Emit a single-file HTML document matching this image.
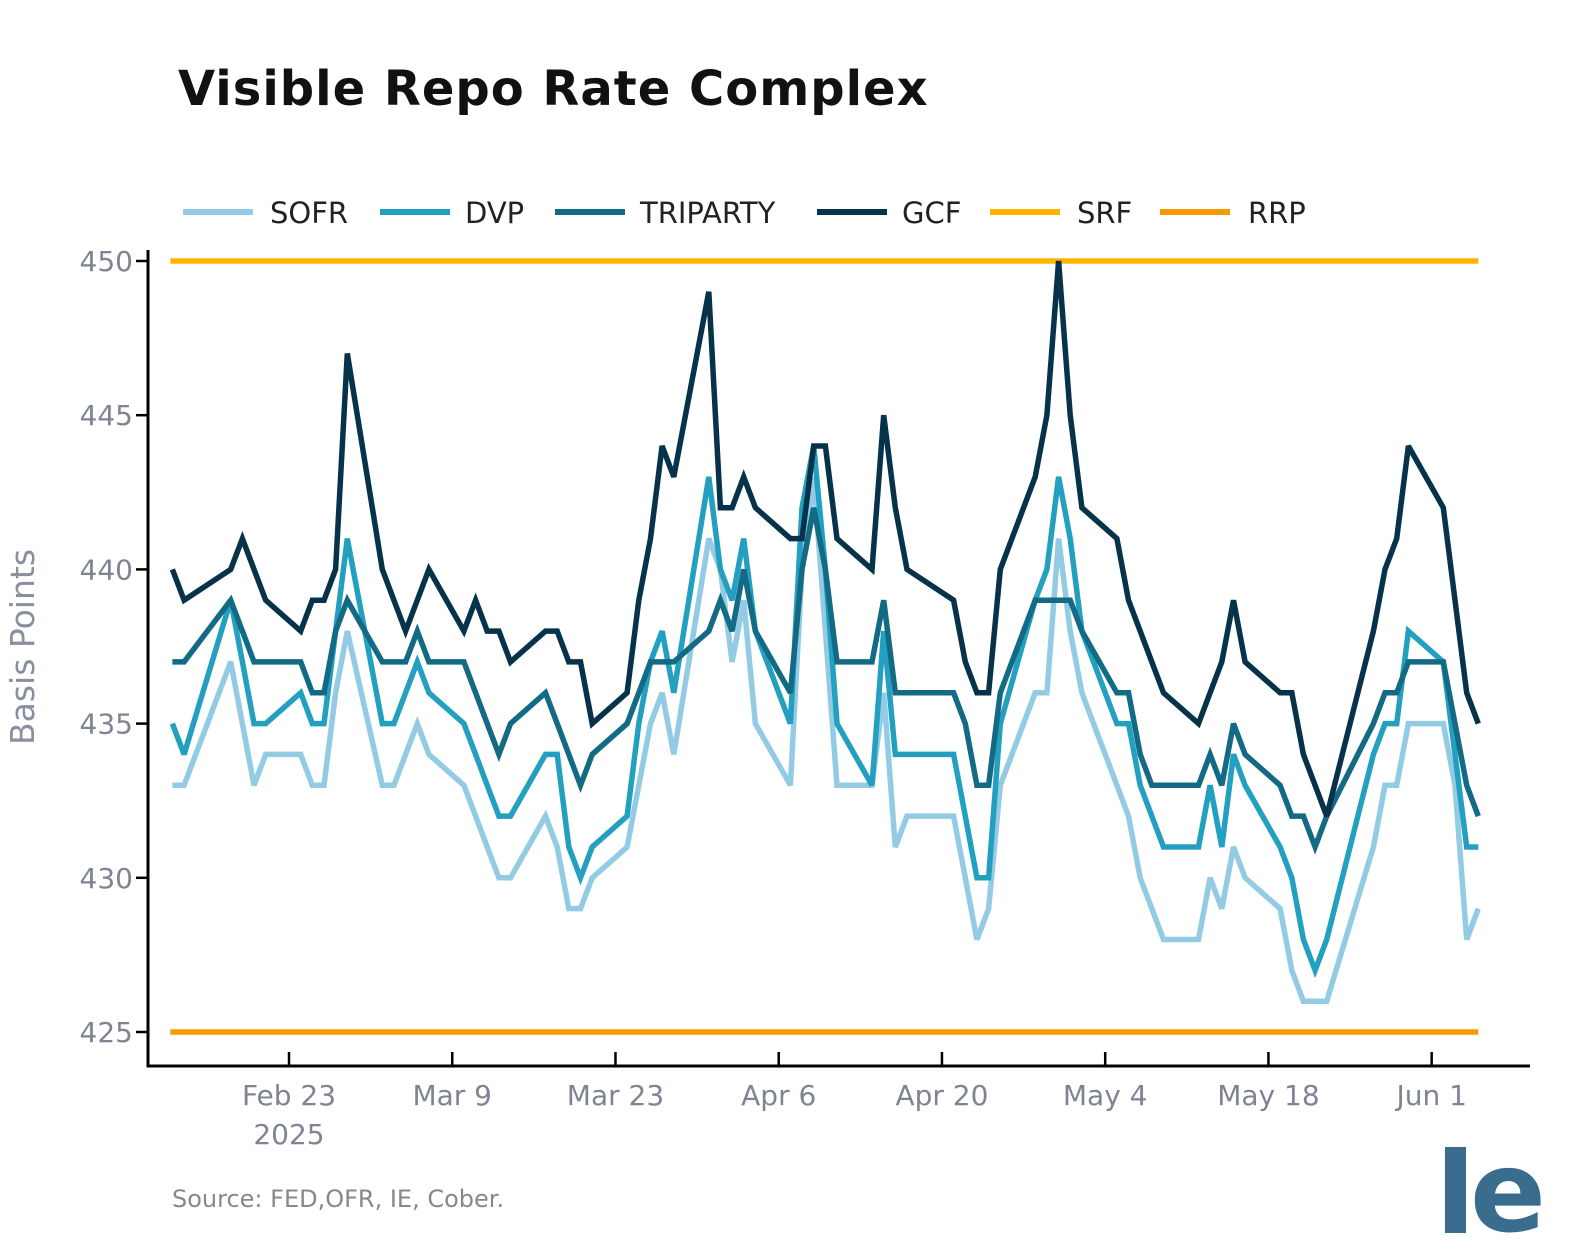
<!DOCTYPE html>
<html><head><meta charset="utf-8"><style>
html,body{margin:0;padding:0;background:#fff;}
svg{display:block;font-family:"DejaVu Sans","Liberation Sans",sans-serif;}
</style></head><body>
<svg id="chart" width="1574" height="1250" viewBox="0 0 1574 1250" xmlns="http://www.w3.org/2000/svg">
<text x="178" y="105" font-size="48" font-weight="bold" letter-spacing="1" fill="#111">Visible Repo Rate Complex</text>
<g id="legend"></g>
<g id="grid"></g>
<g id="series"></g>
<text transform="translate(34,647) rotate(-90)" text-anchor="middle" font-size="33" fill="#8a8fa0">Basis Points</text>
<text x="172" y="1207" font-size="24" fill="#888">Source: FED,OFR, IE, Cober.</text>
<g>
<rect x="1445" y="1147" width="21" height="86" fill="#3a6d8d"/>
<text x="1470" y="1231" font-size="112" font-weight="bold" fill="#3a6d8d">e</text>
</g>
</svg>
<script>
const days = [0,1,5,6,7,8,11,12,13,14,15,18,19,20,21,22,25,26,27,28,29,32,33,34,35,36,39,40,41,42,43,46,47,48,49,50,53,54,55,56,57,60,61,62,63,67,68,69,70,71,74,75,76,77,78,81,82,83,84,85,88,89,90,91,92,95,96,97,98,99,103,104,105,106,109,110,111,112];
const gcf = [440,439,440,441,440,439,438,439,439,440,447,440,439,438,439,440,438,439,438,438,437,438,438,437,437,435,436,439,441,444,443,449,442,442,443,442,441,441,444,444,441,440,445,442,440,439,437,436,436,440,443,445,450,445,442,441,439,438,437,436,435,436,437,439,437,436,436,434,433,432,438,440,441,444,442,439,436,435];
const triparty = [437,437,439,438,437,437,437,436,436,438,439,437,437,437,438,437,437,436,435,434,435,436,435,434,433,434,435,436,437,437,437,438,439,438,440,438,436,440,442,440,437,437,439,436,436,436,435,433,433,436,439,439,439,439,438,436,436,434,433,433,433,434,433,435,434,433,432,432,431,432,435,436,436,437,437,435,433,432];
const dvp = [435,434,439,437,435,435,436,435,435,438,441,435,435,436,437,436,435,434,433,432,432,434,434,431,430,431,432,435,437,438,436,443,440,439,441,438,435,442,444,440,435,433,438,434,434,434,432,430,430,435,439,440,443,441,438,435,435,433,432,431,431,433,431,434,433,431,430,428,427,428,434,435,435,438,437,434,431,431];
const sofr = [433,433,437,435,433,434,434,433,433,436,438,433,433,434,435,434,433,432,431,430,430,432,431,429,429,430,431,433,435,436,434,441,440,437,439,435,433,440,443,438,433,433,436,431,432,432,430,428,429,433,436,436,441,438,436,433,432,430,429,428,428,430,429,431,430,429,427,426,426,426,431,433,433,435,435,433,428,429];
const srfLevel = [450];
const rrpLevel = [425];
const yTicks = [425,430,435,440,445,450];
const xTickDays = [10,24,38,52,66,80,94,108];
const xTickLabels = ["Feb 23","Mar 9","Mar 23","Apr 6","Apr 20","May 4","May 18","Jun 1"];

const NS="http://www.w3.org/2000/svg";
const X0=172.4, XS=11.66, YTOP=261, YS=30.84;
function xScale(d){return X0+d*XS;}
function yScale(v){return YTOP+(450-v)*YS;}
function mk(tag,attrs,parent){const e=document.createElementNS(NS,tag);for(const k in attrs)e.setAttribute(k,attrs[k]);parent.appendChild(e);return e;}

const grid=document.getElementById('grid');
const series=document.getElementById('series');
const legend=document.getElementById('legend');
let ax=mk('line',{x1:148,y1:250,x2:148,y2:1067,stroke:'#000','stroke-width':3},grid);


let bx=mk('line',{x1:146.5,y1:1066,x2:1530,y2:1066,stroke:'#000','stroke-width':3},grid);


yTicks.forEach(v=>{
  const y=yScale(v);
  const t=mk('line',{x1:136,y1:y,x2:148,y2:y,stroke:'#000','stroke-width':2.5},grid);
  
  
  const l=mk('text',{x:133,y:y+10,'text-anchor':'end','font-size':28,fill:'#7f8494'},grid);
  l.textContent=v;
  
  
});
xTickDays.forEach((d,i)=>{
  const x=xScale(d);
  const t=mk('line',{x1:x,y1:1052,x2:x,y2:1066,stroke:'#000','stroke-width':2.5},grid);
  
  
  const l=mk('text',{x:x,y:1105,'text-anchor':'middle','font-size':28,fill:'#7f8494'},grid);
  l.textContent=xTickLabels[i];
  
  
});
const yr=mk('text',{x:xScale(10),y:1144,'text-anchor':'middle','font-size':28,fill:'#7f8494'},grid);
yr.textContent='2025';



function hline(v,color,name){
  const l=mk('line',{x1:xScale(days[0])-2,y1:yScale(v),x2:xScale(days[days.length-1]),y2:yScale(v),stroke:color,'stroke-width':5.5},series);
  
  
}
hline(srfLevel[0],'#ffb400','srf-line');
hline(rrpLevel[0],'#f59a00','rrp-line');

function path(vals,color,name){
  const d=vals.map((v,i)=>(i?'L':'M')+xScale(days[i]).toFixed(1)+','+yScale(v).toFixed(1)).join(' ');
  const p=mk('path',{d:d,fill:'none',stroke:color,'stroke-width':5.5,'stroke-linejoin':'miter','stroke-miterlimit':3},series);
  
  
}
path(sofr,'#93cbe5','sofr-line');
path(dvp,'#23a0bf','dvp-line');
path(triparty,'#136a85','triparty-line');
path(gcf,'#06324a','gcf-line');

const legItems=[["SOFR","#93cbe5",183,270],["DVP","#23a0bf",380,465],["TRIPARTY","#136a85",555,640],["GCF","#06324a",817,902],["SRF","#ffb400",990,1077],["RRP","#f59a00",1160,1248]];
legItems.forEach(it=>{
  const g=mk('g',{},legend);
  
  
  mk('line',{x1:it[2],y1:212,x2:it[2]+70,y2:212,stroke:it[1],'stroke-width':6},g);
  const t=mk('text',{x:it[3],y:223,'font-size':29,fill:'#222'},g);
  t.textContent=it[0];
});
</script>
</body></html>
